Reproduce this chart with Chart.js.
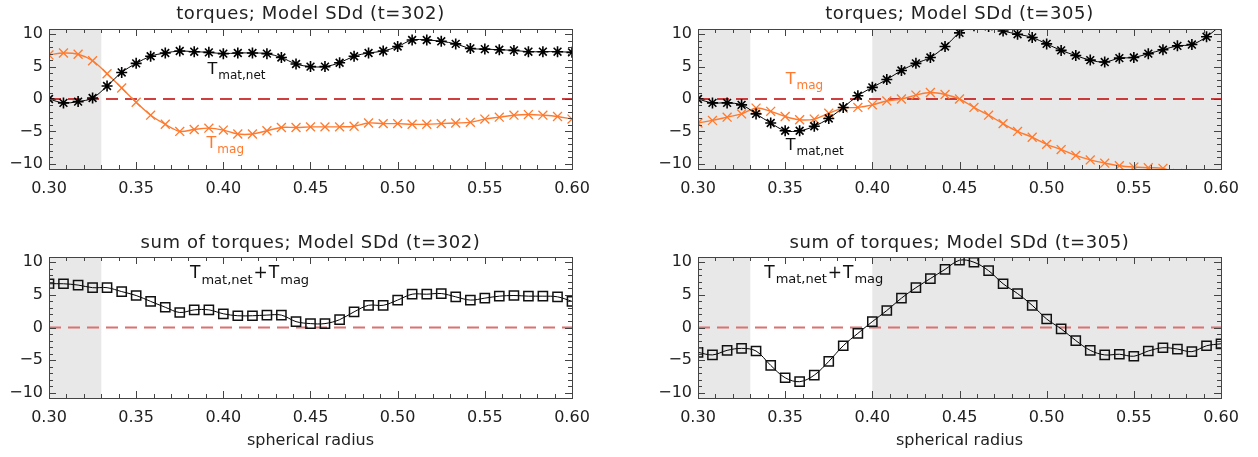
<!DOCTYPE html>
<html>
<head>
<meta charset="utf-8">
<script src="https://cdn.jsdelivr.net/npm/chart.js@4.4.1/dist/chart.umd.min.js"></script>
<style>
  html, body { margin: 0; padding: 0; background: #fff; }
  #wrap { position: relative; width: 1258px; height: 457px; }
  #wrap canvas { position: absolute; left: 0; top: 0; }
</style>
</head>
<body>
<div id="wrap">
  <canvas id="c1" width="1258" height="457"></canvas>
  <canvas id="c2" width="1258" height="457"></canvas>
  <canvas id="c3" width="1258" height="457"></canvas>
  <canvas id="c4" width="1258" height="457"></canvas>
</div>
<script>
// spherical radius of the sampled points
const radius = [0.3000, 0.3083, 0.3167, 0.3250, 0.3333, 0.3417, 0.3500, 0.3583, 0.3667, 0.3750,
                0.3833, 0.3917, 0.4000, 0.4083, 0.4167, 0.4250, 0.4333, 0.4417, 0.4500, 0.4583,
                0.4667, 0.4750, 0.4833, 0.4917, 0.5000, 0.5083, 0.5167, 0.5250, 0.5333, 0.5417,
                0.5500, 0.5583, 0.5667, 0.5750, 0.5833, 0.5917, 0.6000];

// t=302
const matNet302 = [0.0, -0.6, -0.4, 0.15, 2.0, 4.1, 5.5, 6.6, 7.1, 7.4, 7.3, 7.2, 7.0, 7.1, 7.1, 7.0, 6.4, 5.4, 5.0, 5.0,
                   5.6, 6.6, 7.1, 7.4, 8.1, 9.1, 9.1, 8.9, 8.5, 7.8, 7.7, 7.6, 7.5, 7.3, 7.3, 7.3, 7.2];
const mag302 = [6.8, 7.1, 6.9, 5.9, 3.9, 1.7, -0.5, -2.5, -3.9, -5.0, -4.7, -4.5, -4.8, -5.4, -5.4, -4.9, -4.4, -4.4, -4.3, -4.3,
                -4.3, -4.2, -3.7, -3.8, -3.8, -3.9, -3.9, -3.8, -3.7, -3.6, -3.1, -2.8, -2.5, -2.4, -2.5, -2.7, -3.1];
const sum302 = [6.7, 6.7, 6.5, 6.1, 6.1, 5.5, 4.9, 4.0, 3.1, 2.3, 2.7, 2.7, 2.1, 1.8, 1.8, 1.9, 1.9, 0.9, 0.6, 0.6,
                1.2, 2.4, 3.4, 3.4, 4.2, 5.1, 5.1, 5.2, 4.7, 4.2, 4.5, 4.8, 4.9, 4.8, 4.8, 4.7, 4.0];

// t=305
const matNet305 = [0.0, -0.6, -0.6, -0.9, -2.3, -3.7, -4.9, -4.9, -4.2, -3.0, -1.3, 0.5, 1.8, 3.0, 4.4, 5.5, 6.4, 8.1, 10.2, 11.3,
                   11.2, 10.5, 10.0, 9.5, 8.5, 7.5, 6.7, 6.0, 5.7, 6.3, 6.4, 7.0, 7.6, 8.2, 8.4, 9.6, 11.4];
const mag305 = [-3.7, -3.3, -2.8, -2.3, -1.4, -1.9, -2.7, -3.2, -3.1, -2.2, -1.4, -1.3, -0.9, -0.3, 0.0, 0.6, 1.0, 0.7, 0.0, -1.3,
                -2.5, -3.8, -5.0, -5.9, -7.0, -7.8, -8.7, -9.4, -9.9, -10.3, -10.5, -10.6, -10.7, -11.5, -12.1, -12.4, -13.9];
const sum305 = [-3.8, -4.2, -3.5, -3.2, -3.6, -5.8, -7.7, -8.3, -7.3, -5.2, -2.8, -0.9, 0.9, 2.6, 4.5, 6.1, 7.5, 8.9, 10.3, 10.0,
                8.7, 6.7, 5.2, 3.4, 1.3, -0.2, -2.0, -3.5, -4.2, -4.1, -4.4, -3.6, -3.1, -3.3, -3.7, -2.8, -2.5];

const xTicks = [0.30, 0.35, 0.40, 0.45, 0.50, 0.55, 0.60];
const yTicks = [-10, -5, 0, 5, 10];
const zeroX = [0.30, 0.60];
const zeroY = [0, 0];

// grey bands (radius ranges)
const shade302 = [[0.30, 0.33]];
const shade305 = [[0.30, 0.33], [0.40, 0.60]];

const FONT = '"DejaVu Sans", sans-serif';
const ORANGE = '#ff7a2e';
const INK = '#222';
const YW = 45, XH = 30;

function pts(ys) {
    return radius.map((r, i) => ({ x: r, y: ys[i] }));
}

function drawLabel(ctx, x, y, parts, size, color) {
    ctx.fillStyle = color;
    ctx.textBaseline = 'alphabetic';
    ctx.textAlign = 'left';
    let cx = x;
    parts.forEach(p => {
        const sub = p.startsWith('_');
        const t = sub ? p.slice(1) : p;
        ctx.font = (sub ? Math.round(size * 0.75) : size) + 'px ' + FONT;
        ctx.fillText(t, cx, sub ? y + size * 0.32 : y);
        cx += ctx.measureText(t).width + 1;
    });
}

// shading, frame with inward ticks, titles and curve labels
const decor = {
    id: 'decor',
    beforeDatasetsDraw(chart, args, o) {
        const { ctx, chartArea: a, scales: { x } } = chart;
        ctx.save();
        ctx.fillStyle = '#e8e8e8';
        (o.shade || []).forEach(([r0, r1]) => {
            const p0 = x.getPixelForValue(r0), p1 = x.getPixelForValue(r1);
            ctx.fillRect(p0, a.top, p1 - p0, a.bottom - a.top);
        });
        ctx.restore();
    },
    afterDraw(chart, args, o) {
        const { ctx, chartArea: a, scales: { x, y } } = chart;
        ctx.save();
        ctx.strokeStyle = '#444';
        ctx.lineWidth = 1;
        ctx.strokeRect(a.left + 0.5, a.top + 0.5, a.right - a.left, a.bottom - a.top);

        ctx.beginPath();
        // x ticks every 0.01, major every 0.05
        for (let i = 0; i <= 30; i++) {
            const px = Math.round(x.getPixelForValue(0.30 + i * 0.01)) + 0.5;
            const len = i % 5 === 0 ? 7 : 4;
            ctx.moveTo(px, a.bottom); ctx.lineTo(px, a.bottom - len);
            ctx.moveTo(px, a.top); ctx.lineTo(px, a.top + len);
        }
        // y ticks every 1, major every 5
        for (let v = -10; v <= 10; v++) {
            const py = Math.round(y.getPixelForValue(v)) + 0.5;
            const len = v % 5 === 0 ? 7 : 4;
            ctx.moveTo(a.left, py); ctx.lineTo(a.left + len, py);
            ctx.moveTo(a.right, py); ctx.lineTo(a.right - len, py);
        }
        ctx.stroke();

        const cx = (a.left + a.right) / 2;
        ctx.fillStyle = INK;
        ctx.textAlign = 'center';
        ctx.textBaseline = 'middle';
        ctx.font = '18px ' + FONT;
        if ('letterSpacing' in ctx) ctx.letterSpacing = '0.6px';
        ctx.fillText(o.title, cx, o.titleY);
        if ('letterSpacing' in ctx) ctx.letterSpacing = '0px';
        if (o.xTitle) {
            ctx.font = '16px ' + FONT;
            ctx.fillText(o.xTitle, cx, 441);
        }
        (o.labels || []).forEach(l => {
            drawLabel(ctx, x.getPixelForValue(l.x), y.getPixelForValue(l.y), l.parts, l.size, l.color);
        });
        ctx.restore();
    }
};

function panel(id, box, datasets, deco) {
    return new Chart(document.getElementById(id), {
        type: 'line',
        data: { datasets: datasets },
        plugins: [decor],
        options: {
            responsive: false,
            animation: false,
            layout: {
                padding: { left: box.L - YW, top: box.T, right: 1258 - box.R, bottom: 457 - box.B - XH }
            },
            scales: {
                x: {
                    type: 'linear',
                    min: 0.30,
                    max: 0.60,
                    afterFit: s => { s.height = XH; },
                    afterBuildTicks: s => { s.ticks = xTicks.map(v => ({ value: v })); },
                    grid: { display: false, drawTicks: false },
                    border: { display: false },
                    ticks: {
                        padding: 10,
                        color: INK,
                        font: { family: FONT, size: 16 },
                        maxRotation: 0,
                        callback: v => v.toFixed(2)
                    }
                },
                y: {
                    min: -10.8,
                    max: 10.8,
                    afterFit: s => { s.width = YW; },
                    afterBuildTicks: s => { s.ticks = yTicks.map(v => ({ value: v })); },
                    grid: { display: false, drawTicks: false },
                    border: { display: false },
                    ticks: {
                        padding: 6,
                        color: INK,
                        font: { family: FONT, size: 16 },
                        callback: v => v < 0 ? '\u2212' + Math.abs(v) : String(v)
                    }
                }
            },
            plugins: {
                legend: { display: false },
                title: { display: false },
                tooltip: { enabled: false },
                decor: deco
            }
        }
    });
}

function zeroSet(color, width) {
    return {
        data: zeroX.map((r, i) => ({ x: r, y: zeroY[i] })),
        borderColor: color,
        borderWidth: width,
        borderDash: [12, 7],
        pointRadius: 0,
        clip: 0,
        order: 10
    };
}

function matSet(ys) {
    return {
        data: pts(ys),
        borderColor: '#000',
        borderWidth: 1,
        tension: 0.35,
        pointStyle: 'star',
        pointRadius: 5.5,
        pointBorderWidth: 1.6,
        pointBorderColor: '#000',
        clip: 0,
        order: 1
    };
}

function magSet(ys) {
    return {
        data: pts(ys),
        borderColor: ORANGE,
        borderWidth: 1.4,
        tension: 0.35,
        pointStyle: 'crossRot',
        pointRadius: 6.3,
        pointBorderWidth: 1.3,
        pointBorderColor: ORANGE,
        clip: 0,
        order: 2
    };
}

function sumSet(ys) {
    return {
        data: pts(ys),
        borderColor: '#000',
        borderWidth: 1,
        tension: 0.35,
        pointStyle: 'rect',
        pointRadius: 6.5,
        pointBorderWidth: 1.5,
        pointBorderColor: '#111',
        pointBackgroundColor: 'rgba(0,0,0,0)',
        clip: 0,
        order: 1
    };
}

panel('c1', { L: 49, T: 29, R: 572, B: 169 },
    [matSet(matNet302), magSet(mag302), zeroSet('#c00000', 1.7)],
    {
        title: 'torques; Model SDd (t=302)', titleY: 14, shade: shade302,
        labels: [
            { x: 0.3909, y: 3.85, parts: ['T', '_mat,net'], size: 16, color: '#111' },
            { x: 0.3904, y: -7.55, parts: ['T', '_mag'], size: 16, color: ORANGE }
        ]
    });

panel('c2', { L: 698, T: 29, R: 1221, B: 169 },
    [matSet(matNet305), magSet(mag305), zeroSet('#c00000', 1.7)],
    {
        title: 'torques; Model SDd (t=305)', titleY: 14, shade: shade305,
        labels: [
            { x: 0.3503, y: 2.3, parts: ['T', '_mag'], size: 16, color: ORANGE },
            { x: 0.3503, y: -7.85, parts: ['T', '_mat,net'], size: 16, color: '#111' }
        ]
    });

panel('c3', { L: 49, T: 257, R: 572, B: 398 },
    [sumSet(sum302), zeroSet('#dd7070', 2)],
    {
        title: 'sum of torques; Model SDd (t=302)', titleY: 243, shade: shade302, xTitle: 'spherical radius',
        labels: [
            { x: 0.3809, y: 7.55, parts: ['T', '_mat,net', '+', 'T', '_mag'], size: 17, color: '#111' }
        ]
    });

panel('c4', { L: 698, T: 257, R: 1221, B: 398 },
    [sumSet(sum305), zeroSet('#dd7070', 2)],
    {
        title: 'sum of torques; Model SDd (t=305)', titleY: 243, shade: shade305, xTitle: 'spherical radius',
        labels: [
            { x: 0.338, y: 7.6, parts: ['T', '_mat,net', '+', 'T', '_mag'], size: 17, color: '#111' }
        ]
    });
</script>
</body>
</html>
